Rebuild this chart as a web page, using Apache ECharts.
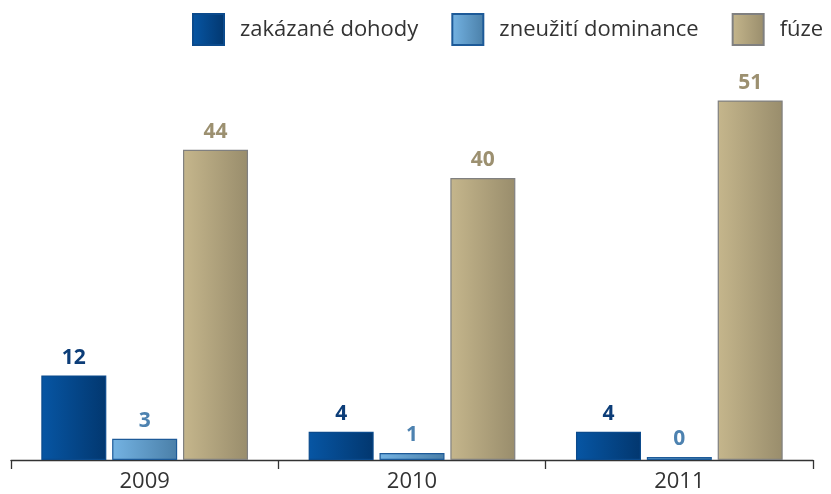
<!DOCTYPE html>
<html>
<head>
<meta charset="utf-8">
<script src="https://cdn.jsdelivr.net/npm/echarts@6/dist/echarts.min.js"></script>
<style>html,body{margin:0;padding:0;background:#fff}#c{width:831px;height:494px}</style>
</head>
<body>
<div id="c"></div>
<script>
var categories = ['2009', '2010', '2011'];
var seriesNames = ['zakázané dohody', 'zneužití dominance', 'fúze'];
var dohody = [12, 4, 4];
var dominance = [3, 1, 0];
var fuze = [44, 40, 51];

function grad(a, b) {
  return new echarts.graphic.LinearGradient(0, 0, 1, 0, [{offset: 0, color: a}, {offset: 1, color: b}]);
}
var fonts = '"Open Sans", "Noto Sans", sans-serif';
var styles = [
  {fill: grad('#0756a4', '#02376f'), border: '#0b4a8c', label: '#0c3d78'},
  {fill: grad('#74b3e3', '#4a7fa8'), border: '#1d5a98', label: '#4d82b0'},
  {fill: grad('#c5b68c', '#998d6c'), border: '#808080', label: '#9c9070'}
];
var data = [dohody, dominance, fuze];

var chart = echarts.init(document.getElementById('c'));
chart.setOption({
  animation: false,
  grid: {left: 11, right: 18, top: 37, bottom: 34},
  legend: {
    left: 192, top: 13, padding: 0, width: 639,
    itemWidth: 31, itemHeight: 31, itemGap: 33,
    icon: 'rect',
    textStyle: {fontFamily: fonts, fontSize: 22, color: '#333', padding: [0, 0, 0, 11]},
    data: seriesNames
  },
  xAxis: {
    type: 'category', data: categories,
    axisLine: {lineStyle: {color: '#333', width: 1.3}},
    axisTick: {show: true, length: 9, lineStyle: {color: '#333', width: 1.3}},
    axisLabel: {fontFamily: fonts, fontSize: 22, color: '#333', margin: 11}
  },
  yAxis: {type: 'value', min: 0, max: 60, show: false, splitLine: {show: false}},
  series: data.map(function (d, i) {
    return {
      name: seriesNames[i], type: 'bar', data: d,
      barWidth: 65, barGap: '9%', barMinHeight: 3,
      itemStyle: {color: styles[i].fill, borderColor: styles[i].border, borderWidth: 1.2},
      label: {show: true, position: 'top', distance: 7, fontFamily: fonts, fontWeight: 'bold', fontSize: 21, color: styles[i].label}
    };
  })
});
</script>
</body>
</html>
